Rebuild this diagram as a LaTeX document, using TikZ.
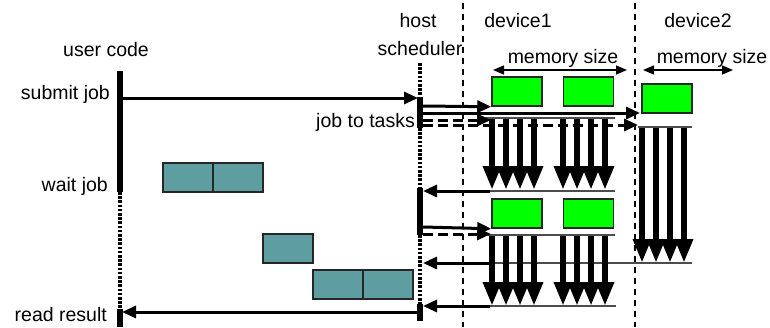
\documentclass[tikz,border=0pt]{standalone}
\usepackage{fontspec}
\setmainfont{Liberation Sans}
\usetikzlibrary{arrows.meta}

\definecolor{bufteal}{RGB}{95,158,160}
\definecolor{memgreen}{RGB}{0,255,0}

\tikzset{
  lbl/.style={font=\fontsize{19.5}{22}\selectfont, inner sep=0pt},
  lifeline/.style={line width=5.5pt},
  idle/.style={line width=4.5pt, dash pattern=on 2.6pt off 1.6pt},
  msg/.style={line width=3pt, -{Triangle[length=14pt,width=12pt]}},
  msgdash/.style={msg, dash pattern=on 10pt off 5pt},
  sep/.style={line width=1.2pt, dash pattern=on 6pt off 5pt},
  span/.style={line width=1.5pt, {Triangle[length=11pt,width=9pt]}-{Triangle[length=11pt,width=9pt]}},
  task/.style={line width=6.5pt, -{Triangle[length=24pt,width=17pt]}},
  rail/.style={line width=1.2pt, black!70},
  mem/.style={draw=black!85, line width=1.5pt, fill=memgreen, minimum width=50pt, minimum height=29pt, inner sep=0pt},
  buf/.style={draw=black!85, line width=1.5pt, fill=bufteal, minimum width=50pt, minimum height=29pt, inner sep=0pt}
}

\begin{document}
\begin{tikzpicture}[x=1pt, y=-1pt]
\useasboundingbox (0,0) rectangle (770,327);

% ---------- column headings ----------
\node[lbl, anchor=base] (tuser) at (106,56) {user code};
\node[lbl, anchor=base] (thost) at (418,27) {host};
\node[lbl, anchor=base] (tsched) at (420,55) {scheduler};
\node[lbl, anchor=base] (tdev1) at (518,27) {device1};
\node[lbl, anchor=base] (tdev2) at (698,27) {device2};

% ---------- event labels ----------
\node[lbl, anchor=base east] (tsubmit) at (110,99) {submit job};
\node[lbl, anchor=base east] (twait) at (108,191) {wait job};
\node[lbl, anchor=base east] (tread) at (107,321) {read result};
\node[lbl, anchor=base east] (tsplit) at (415,127) {job to tasks};

% ---------- device separators ----------
\coordinate (sepA1) at (463,3);  \coordinate (sepA2) at (463,327);
\coordinate (sepB1) at (635,3);  \coordinate (sepB2) at (635,327);
\draw[sep] (sepA1) -- (sepA2);
\draw[sep] (sepB1) -- (sepB2);

% ---------- memory size spans ----------
\node[lbl, anchor=base] (tmem1) at (563,63) {memory size};
\node[lbl, anchor=base] (tmem2) at (712,63) {memory size};
\coordinate (m1l) at (493,70); \coordinate (m1r) at (627,70);
\coordinate (m2l) at (643,70); \coordinate (m2r) at (733,70);
\draw[span] (m1l) -- (m1r);
\draw[span] (m2l) -- (m2r);

% ---------- user code lifeline ----------
\coordinate (u0) at (120,71);
\coordinate (u1) at (120,192);
\coordinate (u2) at (120,309);
\coordinate (u3) at (120,327);
\draw[lifeline] (u0) -- (u1);
\draw[idle] (u1) -- (u2);
\draw[lifeline] (u2) -- (u3);

% ---------- host scheduler lifeline ----------
\coordinate (h0) at (420,63);
\coordinate (h1) at (420,97);
\coordinate (h2) at (420,128);
\coordinate (h3) at (420,188);
\coordinate (h4) at (420,235);
\coordinate (h5) at (420,304);
\coordinate (h6) at (420,321);
\draw[idle] (h0) -- (h1);
\draw[lifeline] (h1) -- (h2);
\draw[idle] (h2) -- (h3);
\draw[lifeline] (h3) -- (h4);
\draw[idle] (h4) -- (h5);
\draw[lifeline] (h5) -- (h6);

% ---------- device memory blocks ----------
\node[mem] (g11) at (517,91.5) {};
\node[mem] (g12) at (588.5,91.5) {};
\node[mem] (g2)  at (667,98.5) {};
\node[mem] (g21) at (517,213.5) {};
\node[mem] (g22) at (588.5,213.5) {};

% ---------- host-side buffers ----------
\node[buf] (b1) at (188,177.5) {};
\node[buf] (b2) at (238,177.5) {};
\node[buf] (b3) at (288,248.5) {};
\node[buf] (b4) at (338,284.5) {};
\node[buf] (b5) at (388,284.5) {};

% ---------- task rails ----------
\coordinate (r1a) at (483,118); \coordinate (r1b) at (615,118);
\coordinate (r2a) at (483,191); \coordinate (r2b) at (615,191);
\coordinate (r3a) at (638,127); \coordinate (r3b) at (692,127);
\coordinate (r4a) at (483,263); \coordinate (r4b) at (692,263);
\coordinate (r5a) at (483,235); \coordinate (r5b) at (615,235);
\coordinate (r6a) at (483,306); \coordinate (r6b) at (616,306);
\draw[rail] (r1a) -- (r1b);
\draw[rail] (r2a) -- (r2b);
\draw[rail] (r3a) -- (r3b);
\draw[rail] (r4a) -- (r4b);
\draw[rail] (r5a) -- (r5b);
\draw[rail] (r6a) -- (r6b);

% ---------- messages ----------
\coordinate (usub) at (122,98);  \coordinate (hsub) at (418,98);
\draw[msg] (usub) -- (hsub);

\coordinate (hA) at (423,106); \coordinate (hB) at (423,113);
\coordinate (hC) at (423,120); \coordinate (hD) at (423,125);
\coordinate (eB) at (640,113);
\coordinate (eC) at (491,120); \coordinate (eD) at (638,125);
\draw[msg] (hA) -- (g11.south west);
\draw[msg] (hB) -- (eB);
\draw[msgdash] (hC) -- (eC);
\draw[msgdash] (hD) -- (eD);

\coordinate (hE) at (423,227); \coordinate (hF) at (423,234);
\coordinate (eF) at (491,234);
\draw[msg] (hE) -- (g21.south west);
\draw[msgdash] (hF) -- (eF);

% ---------- device1 tasks, first wave ----------
\foreach \x [count=\i] in {492,506,520,534,563,577,591,605} {
  \coordinate (ta\i) at (\x,119);
  \coordinate (tb\i) at (\x,190);
  \draw[task] (ta\i) -- (tb\i);
}
% ---------- device2 tasks ----------
\foreach \x [count=\i] in {642,656,670,684} {
  \coordinate (tc\i) at (\x,128);
  \coordinate (td\i) at (\x,263);
  \draw[task] (tc\i) -- (td\i);
}
% ---------- device1 tasks, second wave ----------
\foreach \x [count=\i] in {492,506,520,534,563,577,591,605} {
  \coordinate (te\i) at (\x,236);
  \coordinate (tf\i) at (\x,306);
  \draw[task] (te\i) -- (tf\i);
}

% ---------- results back to host ----------
\coordinate (rA) at (490,191); \coordinate (hG) at (423,191);
\coordinate (rB) at (490,263); \coordinate (hH) at (423,263);
\coordinate (rC) at (490,306); \coordinate (hI) at (423,306);
\draw[msg] (rA) -- (hG);
\draw[msg] (rB) -- (hH);
\draw[msg] (rC) -- (hI);

\coordinate (hread) at (418,312); \coordinate (uread) at (122,312);
\draw[msg] (hread) -- (uread);
\end{tikzpicture}
\end{document}
